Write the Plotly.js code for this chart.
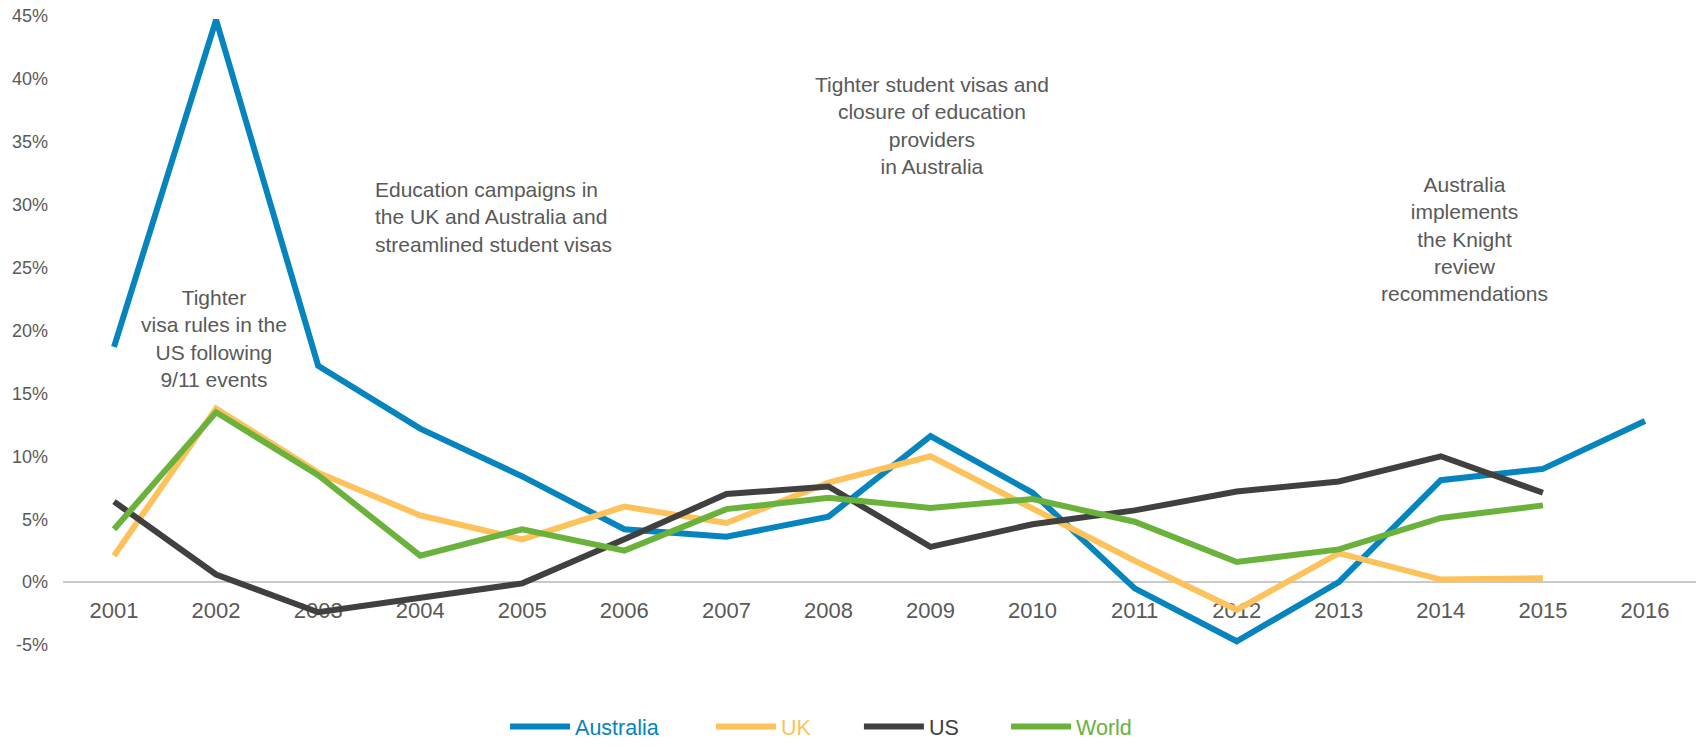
<!DOCTYPE html>
<html>
<head>
<meta charset="utf-8">
<script src="https://cdn.plot.ly/plotly-3.0.1.min.js"></script>
<style>html,body{margin:0;padding:0;background:#fff;}#chart{width:1699px;height:747px;}</style>
</head>
<body>
<div id="chart"></div>
<script>
var years = ['2001','2002','2003','2004','2005','2006','2007','2008','2009','2010','2011','2012','2013','2014','2015','2016'];
var australia = [18.7, 44.7, 17.2, 12.2, 8.4, 4.2, 3.6, 5.2, 11.6, 7.1, -0.5, -4.7, 0.0, 8.1, 9.0, 12.8];
var uk        = [2.1, 13.8, 8.7, 5.3, 3.4, 6.0, 4.7, 7.9, 10.0, 5.8, 1.7, -2.2, 2.3, 0.2, 0.3];
var us        = [6.4, 0.6, -2.4, -1.3, -0.1, 3.4, 7.0, 7.6, 2.8, 4.6, 5.7, 7.2, 8.0, 10.0, 7.1];
var world     = [4.2, 13.5, 8.5, 2.1, 4.2, 2.5, 5.8, 6.7, 5.9, 6.6, 4.8, 1.6, 2.6, 5.1, 6.1];
var seriesNames = ['Australia', 'UK', 'US', 'World'];
var seriesColors = ['#0584BE', '#FDC25C', '#404040', '#6AB23C'];
var tickVals = [-5, 0, 5, 10, 15, 20, 25, 30, 35, 40, 45];

var legendIds = ['legend', 'legend2', 'legend3', 'legend4'];
var legendX = [0.2707, 0.3968, 0.4874, 0.5775];

var seriesData = [australia, uk, us, world];
var traces = seriesData.map(function (vals, i) {
  return {
    type: 'scatter',
    mode: 'lines',
    x: years.slice(0, vals.length),
    y: vals,
    name: '<span style="color:' + seriesColors[i] + '">' + seriesNames[i] + '</span>',
    legend: legendIds[i],
    line: {color: seriesColors[i], width: 6},
    hoverinfo: 'x+y'
  };
});

var legendFont = {family: 'Liberation Sans, Arial, sans-serif', size: 21.5, color: '#595959'};
function makeLegend(i) {
  return {
    orientation: 'h',
    x: legendX[i], xanchor: 'left', xref: 'paper',
    y: 0, yanchor: 'bottom', yref: 'container',
    font: legendFont,
    itemwidth: 60,
    bgcolor: 'rgba(0,0,0,0)',
    borderwidth: 0
  };
}

var annFont = {family: 'Liberation Sans, Arial, sans-serif', size: 21, color: '#595959'};
var layout = {
  width: 1699,
  height: 747,
  margin: {l: 63, r: 3, t: 16, b: 102, autoexpand: false},
  paper_bgcolor: '#ffffff',
  plot_bgcolor: '#ffffff',
  showlegend: true,
  legend: makeLegend(0),
  legend2: makeLegend(1),
  legend3: makeLegend(2),
  legend4: makeLegend(3),
  xaxis: {
    type: 'category',
    categoryorder: 'array',
    categoryarray: years,
    range: [-0.5, 15.5],
    anchor: 'free',
    position: 0.1,
    showline: true,
    linecolor: '#C8C8C8',
    linewidth: 2,
    layer: 'below traces',
    showgrid: false,
    zeroline: false,
    ticks: '',
    ticklabelstandoff: 8,
    tickfont: {family: 'Liberation Sans, Arial, sans-serif', size: 22, color: '#595959'},
    fixedrange: true
  },
  yaxis: {
    range: [-5, 45],
    tickvals: tickVals,
    ticktext: tickVals.map(function (v) { return v + '%'; }),
    showgrid: false,
    zeroline: false,
    showline: false,
    ticks: '',
    ticklabelstandoff: 14,
    tickfont: {family: 'Liberation Sans, Arial, sans-serif', size: 18, color: '#595959'},
    fixedrange: true
  },
  annotations: [
    {xref: 'paper', yref: 'paper', x: 0.0925, y: 0.487, xanchor: 'center', yanchor: 'middle', align: 'center', showarrow: false, font: annFont,
     text: 'Tighter<br>visa rules in the<br>US following<br>9/11 events'},
    {xref: 'paper', yref: 'paper', x: 0.190, y: 0.680, xanchor: 'left', yanchor: 'middle', align: 'left', showarrow: false, font: annFont,
     text: 'Education campaigns in<br>the UK and Australia and<br>streamlined student visas'},
    {xref: 'paper', yref: 'paper', x: 0.532, y: 0.826, xanchor: 'center', yanchor: 'middle', align: 'center', showarrow: false, font: annFont,
     text: 'Tighter student visas and<br>closure of education<br>providers<br>in Australia'},
    {xref: 'paper', yref: 'paper', x: 0.858, y: 0.645, xanchor: 'center', yanchor: 'middle', align: 'center', showarrow: false, font: annFont,
     text: 'Australia<br>implements<br>the Knight<br>review<br>recommendations'}
  ]
};

Plotly.newPlot('chart', traces, layout, {displayModeBar: false});
</script>
</body>
</html>
